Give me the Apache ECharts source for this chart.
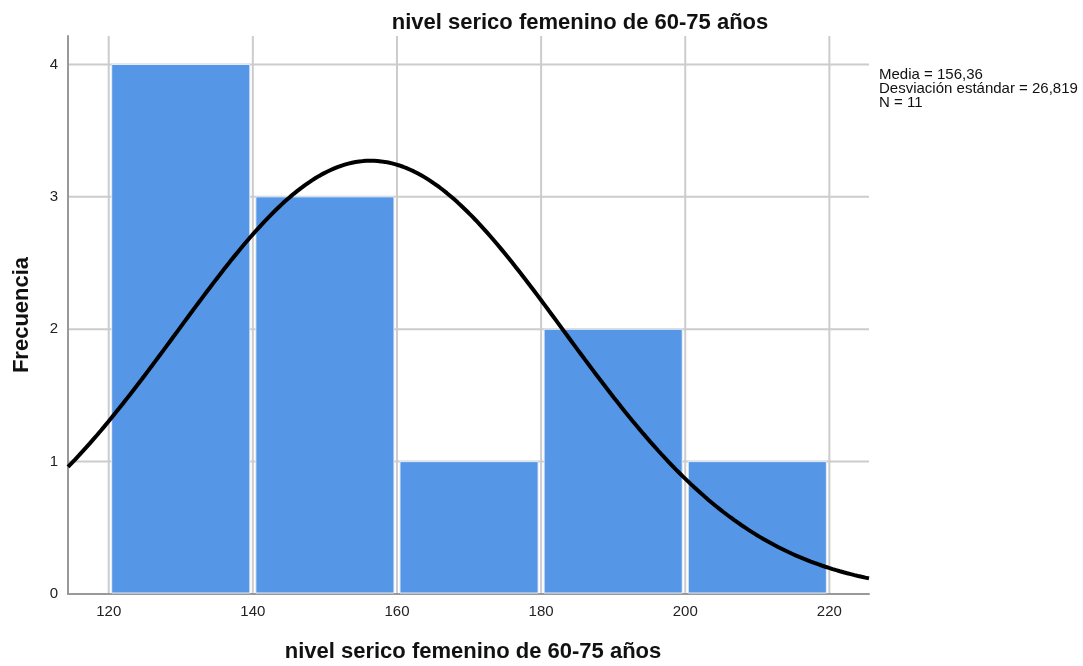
<!DOCTYPE html>
<html>
<head>
<meta charset="utf-8">
<title>nivel serico femenino de 60-75 años</title>
<script src="https://cdn.jsdelivr.net/npm/echarts@6/dist/echarts.min.js"></script>
<style>
  html, body { margin: 0; padding: 0; background: #fff; overflow: hidden; }
  #chart { width: 1083px; height: 666px; }
</style>
</head>
<body>
<div id="chart"></div>
<script>
// Histogram bins (lower edge, upper edge) and frequency per bin
const binStarts = [120, 140, 160, 180, 200];
const binEnds   = [140, 160, 180, 200, 220];
const counts    = [4, 3, 1, 2, 1];

// Tick labels
const xTicks = [120, 140, 160, 180, 200, 220];
const yTicks = [0, 1, 2, 3, 4];

// Summary statistics shown beside the plot
const mean = 156.36;
const stdDev = 26.819;
const n = 11;
const binWidth = 20;

const xMin = 114.35, xMax = 225.5, yMax = 4.215;
const FONT = '"Liberation Sans", Arial, sans-serif';
const GRID_COLOR = '#cccccc';

// Fitted normal curve scaled to frequencies: N * width * pdf(x)
const curve = [];
const steps = 220;
for (let i = 0; i <= steps; i++) {
  const x = xMin + (xMax - xMin) * i / steps;
  const z = (x - mean) / stdDev;
  const y = n * binWidth * Math.exp(-0.5 * z * z) / (stdDev * Math.sqrt(2 * Math.PI));
  curve.push([x, y]);
}

const barData = binStarts.map((s, i) => [s, binEnds[i], counts[i]]);

const chart = echarts.init(document.getElementById('chart'), null, { renderer: 'canvas' });
chart.setOption({
  animation: false,
  backgroundColor: '#ffffff',
  title: {
    text: 'nivel serico femenino de 60-75 años',
    left: 575, top: 7, textAlign: 'center',
    textStyle: { fontFamily: FONT, fontSize: 22, fontWeight: 'bold', color: '#111' }
  },
  grid: { left: 68, width: 801, top: 36, height: 558, containLabel: false, outerBoundsMode: 'none' },
  xAxis: {
    type: 'value', min: xMin, max: xMax,
    name: 'nivel serico femenino de 60-75 años',
    nameLocation: 'middle', nameGap: 47,
    nameTextStyle: { fontFamily: FONT, fontSize: 22, fontWeight: 'bold', color: '#111', padding: [0, 0, 0, 9] },
    axisLine: { show: true, lineStyle: { color: '#999', width: 2 } },
    axisTick: { show: false },
    splitLine: { show: false },
    axisLabel: { customValues: xTicks, fontFamily: FONT, fontSize: 15, color: '#222', margin: 10 }
  },
  yAxis: {
    type: 'value', min: 0, max: yMax,
    name: 'Frecuencia',
    nameLocation: 'middle', nameGap: 35, nameRotate: 90,
    nameTextStyle: { fontFamily: FONT, fontSize: 22, fontWeight: 'bold', color: '#111' },
    axisLine: { show: true, lineStyle: { color: '#999', width: 2 } },
    axisTick: { show: false },
    splitLine: { show: false },
    axisLabel: { customValues: yTicks, fontFamily: FONT, fontSize: 15, color: '#222', margin: 10 }
  },
  series: [
    {
      // vertical grid lines behind the bars
      type: 'custom', z: 0, silent: true,
      data: xTicks.map(v => [v]),
      encode: { x: 0 },
      renderItem: function (params, api) {
        const cs = params.coordSys;
        const c = api.coord([api.value(0), 0]);
        return {
          type: 'line',
          shape: { x1: c[0], y1: cs.y, x2: c[0], y2: cs.y + cs.height },
          style: { stroke: GRID_COLOR, lineWidth: 2 }
        };
      }
    },
    {
      // horizontal grid lines behind the bars
      type: 'custom', z: 0, silent: true,
      data: yTicks.filter(v => v > 0).map(v => [v]),
      encode: { y: 0 },
      renderItem: function (params, api) {
        const cs = params.coordSys;
        const c = api.coord([xMin, api.value(0)]);
        return {
          type: 'line',
          shape: { x1: cs.x, y1: c[1], x2: cs.x + cs.width, y2: c[1] },
          style: { stroke: GRID_COLOR, lineWidth: 2 }
        };
      }
    },
    {
      type: 'custom', z: 2,
      data: barData,
      encode: { x: [0, 1], y: 2 },
      renderItem: function (params, api) {
        const p0 = api.coord([api.value(0), api.value(2)]);
        const p1 = api.coord([api.value(1), 0]);
        const inset = 3;
        return {
          type: 'rect',
          shape: { x: p0[0] + inset, y: p0[1], width: p1[0] - p0[0] - 2 * inset, height: p1[1] - p0[1] - 1 },
          style: { fill: '#5596e6', stroke: '#e6eefa', lineWidth: 1 }
        };
      }
    },
    {
      type: 'line', z: 3, data: curve, showSymbol: false, smooth: false,
      lineStyle: { color: '#000', width: 4 }
    }
  ],
  graphic: [
    {
      type: 'text', left: 879, top: 67,
      style: {
        text: 'Media = 156,36\nDesviación estándar = 26,819\nN = 11',
        font: '15px ' + FONT, fill: '#111', lineHeight: 14
      }
    }
  ]
});
</script>
</body>
</html>
